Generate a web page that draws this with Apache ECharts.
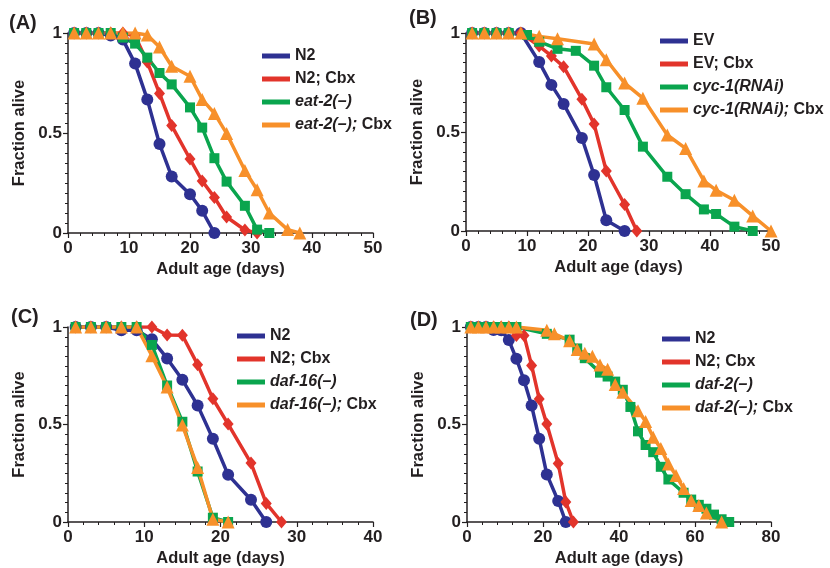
<!DOCTYPE html>
<html>
<head>
<meta charset="utf-8">
<script src="https://cdn.jsdelivr.net/npm/echarts@6/dist/echarts.min.js"></script>
<style>
  html, body { margin: 0; padding: 0; background: #fff; }
  #main { width: 830px; height: 568px; }
</style>
</head>
<body>
<div id="main"></div>
<script type="text/javascript">
// survival curves, [adult age (days), fraction alive]
var aN2 = [[1,1],[3,1],[5,1],[7,0.987],[9,0.967],[11,0.847],[13,0.668],[15,0.445],[17,0.282],[20,0.194],[22,0.111],[24,0]];
var aN2Cbx = [[1,1],[3,1],[5,1],[7,1],[9,1],[11,0.985],[13,0.855],[15,0.698],[17,0.537],[20,0.37],[22,0.26],[24,0.178],[26,0.08],[29,0.015],[31,0]];
var aEat2 = [[1,1],[3,1],[5,1],[7,1],[9,0.977],[11,0.947],[13,0.877],[15,0.8],[17,0.743],[20,0.628],[22,0.527],[24,0.374],[26,0.257],[29,0.136],[31,0.017],[33,0]];
var aEat2Cbx = [[1,1],[3,1],[5,1],[7,1],[9,1],[11,1],[13,0.99],[15,0.93],[17,0.834],[20,0.784],[22,0.668],[24,0.598],[26,0.498],[29,0.312],[31,0.216],[33,0.1],[36,0.017],[38,0]];

var bEV = [[1,1],[3,1],[5,1],[7,1],[9,1],[12,0.853],[14,0.738],[16,0.642],[19,0.47],[21,0.283],[23,0.054],[26,0]];
var bEVCbx = [[1,1],[3,1],[5,1],[7,1],[9,1],[12,0.934],[14,0.884],[16,0.83],[19,0.666],[21,0.54],[23,0.303],[26,0.134],[28,0]];
var bCyc1 = [[1,1],[3,1],[5,1],[7,1],[10,0.99],[12,0.956],[15,0.92],[18,0.91],[21,0.835],[23,0.726],[26,0.611],[29,0.426],[33,0.274],[36,0.186],[39,0.109],[41,0.086],[44,0.022],[47,0]];
var bCyc1Cbx = [[1,1],[3,1],[5,1],[7,1],[9,1],[12,0.983],[15,0.971],[21,0.944],[23,0.865],[26,0.747],[29,0.671],[33,0.485],[36,0.417],[39,0.253],[41,0.206],[44,0.155],[47,0.076],[50,0]];

var cN2 = [[1,1],[3,1],[5,1],[7,0.983],[9,0.983],[11,0.937],[13,0.839],[15,0.729],[17,0.598],[19,0.427],[21,0.242],[24,0.114],[26,0]];
var cN2Cbx = [[1,1],[3,1],[5,1],[7,1],[9,1],[11,1],[13,0.959],[15,0.958],[17,0.807],[19,0.632],[21,0.502],[24,0.302],[26,0.095],[28,0]];
var cDaf16 = [[1,1],[3,1],[5,1],[7,1],[9,1],[11,0.908],[13,0.7],[15,0.514],[17,0.259],[19,0.022],[21,0]];
var cDaf16Cbx = [[1,1],[3,1],[5,1],[7,1],[9,1],[11,0.853],[13,0.692],[15,0.497],[17,0.28],[19,0.014],[21,0]];

var dN2 = [[1,1],[3,1],[5,1],[7,0.985],[9,0.983],[11,0.933],[13,0.837],[15,0.727],[17,0.597],[19,0.427],[21,0.244],[24,0.108],[26,0]];
var dN2Cbx = [[1,1],[3,1],[5,1],[7,1],[9,1],[11,1],[13,0.957],[15,0.957],[17,0.803],[19,0.631],[21,0.503],[24,0.3],[26,0.102],[28,0]];
var dDaf2 = [[1,1],[3,1],[5,1],[7,1],[9,1],[11,1],[13,1],[21,0.965],[27,0.935],[29,0.89],[31,0.84],[35,0.766],[37,0.746],[39,0.72],[41,0.678],[43,0.59],[45,0.465],[47,0.395],[49,0.358],[51,0.283],[53,0.218],[57,0.15],[59,0.115],[61,0.088],[63,0.068],[65,0.038],[67,0.014],[69,0]];
var dDaf2Cbx = [[1,1],[3,1],[5,1],[7,1],[9,1],[11,1],[13,1],[21,0.983],[23,0.965],[27,0.93],[29,0.885],[31,0.866],[33,0.85],[35,0.805],[37,0.783],[39,0.705],[41,0.665],[45,0.57],[47,0.515],[49,0.435],[51,0.377],[53,0.298],[55,0.238],[57,0.172],[59,0.11],[61,0.084],[63,0.046],[67,0]];

var panelTitles = ['(A)', '(B)', '(C)', '(D)'];
var xMax = [50, 50, 40, 80];
var xStep = [10, 10, 10, 20];

// legend labels, '{i|..}' = italic part
var labels = {
    a1: 'N2', a2: 'N2; Cbx', a3: '{i|eat-2(–)}', a4: '{i|eat-2(–);} Cbx',
    b1: 'EV', b2: 'EV; Cbx', b3: '{i|cyc-1(RNAi)}', b4: '{i|cyc-1(RNAi);} Cbx',
    c1: 'N2', c2: 'N2; Cbx', c3: '{i|daf-16(–)}', c4: '{i|daf-16(–);} Cbx',
    d1: 'N2', d2: 'N2; Cbx', d3: '{i|daf-2(–)}', d4: '{i|daf-2(–);} Cbx'
};

var colors = ['#2e3192', '#e2342b', '#0aa54e', '#f7902a'];
var symbols = ['circle', 'diamond', 'rect', 'triangle'];
var symSizes = [12, [11, 13], 10, 13];

var panelData = [
    [aN2, aN2Cbx, aEat2, aEat2Cbx],
    [bEV, bEVCbx, bCyc1, bCyc1Cbx],
    [cN2, cN2Cbx, cDaf16, cDaf16Cbx],
    [dN2, dN2Cbx, dDaf2, dDaf2Cbx]
];

var font = '"Liberation Sans", Arial, Helvetica, sans-serif';
var ink = '#231f20';

var grids = [
    { left: 68, top: 33, width: 305, height: 200 },
    { left: 466, top: 33, width: 305, height: 198 },
    { left: 68, top: 327, width: 305, height: 196 },
    { left: 467, top: 327, width: 304, height: 197 }
];
var titlePos = [[9, 13], [409, 8], [11, 307], [410, 310]];
var legendPos = [[262, 48], [660, 33], [237, 328], [662, 331]];

var xAxes = [], yAxes = [], series = [], legends = [], titles = [];

for (var p = 0; p < 4; p++) {
    var key = 'abcd'[p];
    xAxes.push({
        gridIndex: p, type: 'value', min: 0, max: xMax[p], interval: xStep[p],
        name: 'Adult age (days)', nameLocation: 'middle', nameGap: 28,
        nameTextStyle: { fontFamily: font, fontSize: 16.5, fontWeight: 'bold', color: ink },
        axisLine: { lineStyle: { color: ink, width: 1.5 } },
        axisTick: { length: 5, lineStyle: { color: ink, width: 1.2 } },
        minorTick: { show: true, splitNumber: 5, length: 3, lineStyle: { color: ink, width: 1 } },
        axisLabel: { margin: 7, fontFamily: font, fontSize: 17, fontWeight: 'bold', color: ink },
        splitLine: { show: false }
    });
    yAxes.push({
        gridIndex: p, type: 'value', min: 0, max: 1, interval: 0.5,
        name: 'Fraction alive', nameLocation: 'middle', nameGap: 40,
        nameTextStyle: { fontFamily: font, fontSize: 16.5, fontWeight: 'bold', color: ink },
        axisLine: { show: true, lineStyle: { color: ink, width: 1.5 } },
        axisTick: { show: true, length: 5, lineStyle: { color: ink, width: 1.2 } },
        minorTick: { show: true, splitNumber: 10, length: 3, lineStyle: { color: ink, width: 1 } },
        axisLabel: { margin: 6, fontFamily: font, fontSize: 17, fontWeight: 'bold', color: ink },
        splitLine: { show: false }
    });
    titles.push({
        text: panelTitles[p], left: titlePos[p][0], top: titlePos[p][1], padding: 0,
        textStyle: { fontFamily: font, fontSize: 20, fontWeight: 'bold', color: ink }
    });
    var names = [];
    for (var s = 0; s < 4; s++) {
        var nm = key + (s + 1);
        names.push(nm);
        series.push({
            name: nm, type: 'line', xAxisIndex: p, yAxisIndex: p,
            data: panelData[p][s],
            symbol: symbols[s], symbolSize: symSizes[s], showAllSymbol: true,
            color: colors[s],
            lineStyle: { width: 3.5, color: colors[s] },
            itemStyle: { color: colors[s] },
            animation: false
        });
    }
    legends.push({
        data: names, orient: 'vertical', left: legendPos[p][0], top: legendPos[p][1],
        icon: 'rect', itemWidth: 28, itemHeight: 5, itemGap: 7, padding: 0,
        selectedMode: false,
        formatter: function (n) { return labels[n]; },
        textStyle: {
            fontFamily: font, fontSize: 16, fontWeight: 'bold', color: ink, lineHeight: 16,
            rich: { i: { fontFamily: font, fontSize: 16, fontWeight: 'bold', fontStyle: 'italic', color: ink } }
        }
    });
}

var myChart = echarts.init(document.getElementById('main'));
myChart.setOption({
    animation: false,
    title: titles,
    legend: legends,
    grid: grids,
    xAxis: xAxes,
    yAxis: yAxes,
    series: series
});
</script>
</body>
</html>
